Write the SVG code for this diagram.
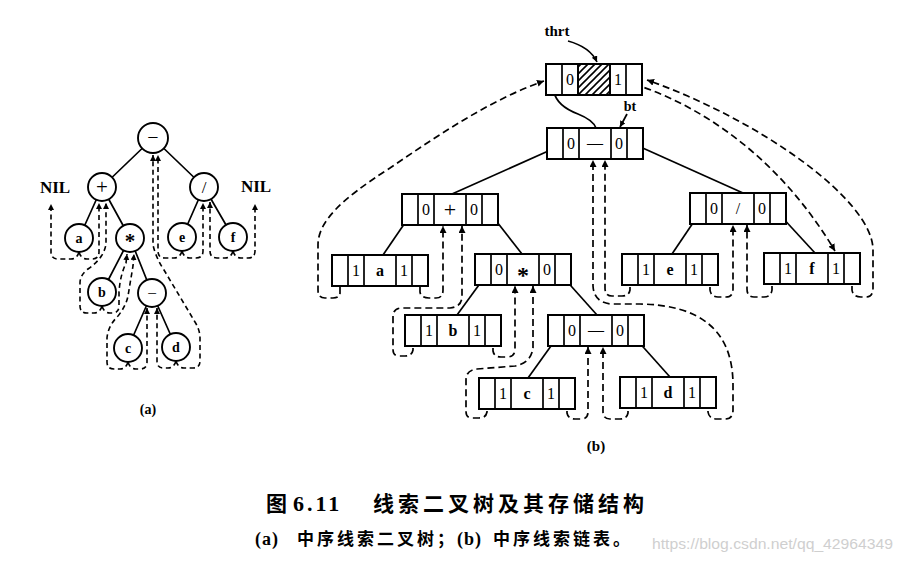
<svg xmlns="http://www.w3.org/2000/svg" width="904" height="567" viewBox="0 0 904 567">
<style>
.bg{fill:#fff}
.circ{fill:#fff;stroke:#000;stroke-width:1.9}
.edge{fill:none;stroke:#000;stroke-width:1.7}
.thr{fill:none;stroke:#000;stroke-width:1.7;stroke-dasharray:7 4}
.thra{fill:none;stroke:#000;stroke-width:1.6;stroke-dasharray:5 3.5}
.box rect{fill:#fff;stroke:#000;stroke-width:2}
.box path{fill:none;stroke:#000;stroke-width:1.7}
.t{font-family:"Liberation Serif",serif;fill:#000;text-anchor:middle}
.cell{font-size:16px}
.lab{font-size:14px;font-weight:bold}
.cap{font-family:"Noto Sans CJK SC",sans-serif;font-weight:bold;fill:#000}
</style>
<defs>
<marker id="ah" markerUnits="userSpaceOnUse" markerWidth="8" markerHeight="8" refX="7" refY="3.5" orient="auto">
<path d="M0,0 L7,3.5 L0,7 z" fill="#000"/>
</marker>
<marker id="as" markerUnits="userSpaceOnUse" markerWidth="7" markerHeight="7" refX="6" refY="3" orient="auto">
<path d="M0,0 L6,3 L0,6 z" fill="#000"/>
</marker>
<pattern id="hatch" patternUnits="userSpaceOnUse" width="7" height="7">
<path d="M0,7 L7,0 M-2,2 L2,-2 M5,9 L9,5" stroke="#000" stroke-width="1.6"/>
</pattern>
<g id="cells" class="box"><rect x="0" y="0" width="96" height="31"/><path d="M16,0V31M32,0V31M64,0V31M80,0V31"/></g>
</defs>
<rect class="bg" x="0" y="0" width="904" height="567"/>

<!-- ===== Part (a) ===== -->
<g id="a-edges">
<path class="edge" d="M153,138 L102,187 M153,138 L204,187 M102,187 L79,238 M102,187 L130,238 M204,187 L182,237 M204,187 L233,237 M130,238 L102,292 M130,238 L152,293 M152,293 L128,348 M152,293 L176,347"/>
</g>
<g id="a-threads">
<path class="thra" marker-end="url(#as)" d="M79,252 Q77,259 71,259 L58,259 Q51,259 51,252 L51,204"/>
<path class="thra" marker-end="url(#as)" d="M79,252 Q81,259 87,259 L92,259 Q99,259 99,252 L99,203"/>
<path class="thra" marker-end="url(#as)" d="M102,306 Q100,313 94,313 L87,313 Q80,313 80,306 L80,283 Q80,275 88,269 Q104,258 106,244 L106,203"/>
<path class="thra" marker-end="url(#as)" d="M102,306 Q104,313 110,313 L112,313 Q119,313 119,306 L119,292 Q120,276 126,263 L127,254"/>
<path class="thra" marker-end="url(#as)" d="M128,362 Q126,369 120,369 L114,369 Q107,369 107,362 L107,338 Q108,326 118,316 Q126,306 128,296 L133,266 L134,254"/>
<path class="thra" marker-end="url(#as)" d="M128,362 Q130,369 136,369 L140,369 Q147,369 147,362 L147,308"/>
<path class="thra" marker-end="url(#as)" d="M176,361 Q174,368 168,368 L163,368 Q157,368 157,361 L157,308"/>
<path class="thra" marker-end="url(#as)" d="M176,361 Q178,368 184,368 L193,368 Q200,368 200,361 L200,338 Q200,330 195,322 L164,270 Q156,258 153,245 L153,155"/>
<path class="thra" marker-end="url(#as)" d="M182,251 Q180,258 174,258 L165,258 Q158,258 158,251 L158,155"/>
<path class="thra" marker-end="url(#as)" d="M182,251 Q184,258 190,258 L196,258 Q203,258 203,251 L203,203"/>
<path class="thra" marker-end="url(#as)" d="M233,251 Q231,258 225,258 L217,258 Q210,258 210,251 L210,202"/>
<path class="thra" marker-end="url(#as)" d="M233,251 Q235,258 241,258 L248,258 Q255,258 255,251 L255,204"/>
</g>
<g id="a-root"><circle class="circ" cx="153" cy="138" r="15"/><text class="t" x="153" y="144" font-size="20">−</text></g>
<g id="a-plus"><circle class="circ" cx="102" cy="187" r="14"/><text class="t" x="102" y="194" font-size="21">+</text></g>
<g id="a-div"><circle class="circ" cx="204" cy="187" r="14"/><text class="t" x="204" y="192.5" font-size="17">/</text></g>
<g id="a-a"><circle class="circ" cx="79" cy="238" r="14"/><text class="t lab" x="79" y="243">a</text></g>
<g id="a-mul"><circle class="circ" cx="130" cy="238" r="14"/><text class="t" x="130" y="247.5" font-size="21" font-weight="bold">*</text></g>
<g id="a-e"><circle class="circ" cx="182" cy="237" r="14"/><text class="t lab" x="182" y="242">e</text></g>
<g id="a-f"><circle class="circ" cx="233" cy="237" r="14"/><text class="t lab" x="233" y="242">f</text></g>
<g id="a-b"><circle class="circ" cx="102" cy="292" r="14"/><text class="t lab" x="102" y="297">b</text></g>
<g id="a-minus2"><circle class="circ" cx="152" cy="293" r="14"/><text class="t" x="152" y="298.5" font-size="17">−</text></g>
<g id="a-c"><circle class="circ" cx="128" cy="348" r="14"/><text class="t lab" x="128" y="353">c</text></g>
<g id="a-d"><circle class="circ" cx="176" cy="347" r="14"/><text class="t lab" x="176" y="352">d</text></g>
<g id="a-nil-left"><text class="t" x="55" y="193" font-size="17" font-weight="bold">NIL</text></g>
<g id="a-nil-right"><text class="t" x="256" y="192" font-size="17" font-weight="bold">NIL</text></g>
<text class="t" x="148" y="414" font-size="14" font-weight="bold">(a)</text>

<!-- ===== Part (b) ===== -->
<g id="b-links">
<path class="edge" d="M554,80 L554,92 Q557,106 578,114 Q593,120 596,128"/>
<path class="edge" d="M555,148 L452,194"/>
<path class="edge" d="M636,145 L743,193"/>
<path class="edge" d="M411,214 L383,255"/>
<path class="edge" d="M490,213 L522,254"/>
<path class="edge" d="M484,278 L457,315"/>
<path class="edge" d="M563,277 L597,315"/>
<path class="edge" d="M556,339 L528,378"/>
<path class="edge" d="M636,339 L670,377"/>
<path class="edge" d="M699,214 L672,254"/>
<path class="edge" d="M780,215 L815,253"/>
<path class="edge" marker-end="url(#as)" d="M568,41 Q590,47 597,62"/>
<path class="edge" marker-end="url(#as)" d="M627,114 L620,127"/>
</g>
<g id="b-threads">
<path class="thr" marker-end="url(#ah)" d="M340,276 L340,293 Q340,298 333,298 L325,298 Q318,298 318,290 L318,245 C318,222 340,200 390,168 C440,134 490,100 544,81"/>
<path class="thr" marker-end="url(#ah)" d="M634,84 C720,112 790,175 835,251"/>
<path class="thr" marker-end="url(#ah)" d="M852,275 L852,290 Q853,297 861,297 L866,297 Q873,297 873,288 L873,250 C873,200 760,120 647,80"/>
<path class="thr" marker-end="url(#ah)" d="M420,276 L420,292 Q421,298 429,298 L436,298 Q443,298 443,290 L443,226"/>
<path class="thr" marker-end="url(#ah)" d="M413,337 L413,350 Q412,356 405,356 L399,356 Q393,356 393,349 L393,317 Q393,308 402,308 L450,308 Q462,307 462,296 L462,226"/>
<path class="thr" marker-end="url(#ah)" d="M493,337 L493,351 Q494,357 501,357 L507,357 Q515,357 515,349 L515,286"/>
<path class="thr" marker-end="url(#ah)" d="M487,400 L487,412 Q486,418 479,418 L472,418 Q466,418 466,411 L466,380 Q466,370 477,369 L515,366 Q531,363 533,348 L533,286"/>
<path class="thr" marker-end="url(#ah)" d="M567,400 L567,413 Q568,419 575,419 L581,419 Q588,419 588,412 L588,347"/>
<path class="thr" marker-end="url(#ah)" d="M628,400 L628,413 Q627,419 620,419 L610,419 Q603,419 603,412 L603,347"/>
<path class="thr" marker-end="url(#ah)" d="M708,400 L708,412 Q709,419 717,419 L725,419 Q733,419 733,410 L733,385 C733,330 700,305 640,304 L612,304 Q594,303 593,286 L593,160"/>
<path class="thr" marker-end="url(#ah)" d="M630,276 L630,290 Q629,296 622,296 L612,296 Q605,296 605,288 L605,160"/>
<path class="thr" marker-end="url(#ah)" d="M710,276 L710,290 Q711,297 718,297 L726,297 Q733,297 733,289 L733,225"/>
<path class="thr" marker-end="url(#ah)" d="M772,275 L772,290 Q771,297 764,297 L754,297 Q747,297 747,289 L747,225"/>
</g>

<g id="b-head" transform="translate(546,64)">
<use href="#cells"/><rect x="32" y="1" width="32" height="29" fill="url(#hatch)"/><path d="M32,0V31M64,0V31" stroke="#000" stroke-width="1.7"/>
<text class="t cell" x="24" y="21">0</text><text class="t cell" x="72" y="21">1</text>
</g>
<g id="b-root" transform="translate(547,128)">
<use href="#cells"/><text class="t cell" x="24" y="21">0</text><text class="t cell" x="48" y="20">—</text><text class="t cell" x="72" y="21">0</text>
</g>
<g id="b-plus" transform="translate(402,194)">
<use href="#cells"/><text class="t cell" x="24" y="21">0</text><text class="t" x="48" y="23" font-size="22">+</text><text class="t cell" x="72" y="21">0</text>
</g>
<g id="b-div" transform="translate(690,193)">
<use href="#cells"/><text class="t cell" x="24" y="21">0</text><text class="t cell" x="48" y="21">/</text><text class="t cell" x="72" y="21">0</text>
</g>
<g id="b-a" transform="translate(332,255)">
<use href="#cells"/><text class="t cell" x="24" y="21">1</text><text class="t cell" x="48" y="21" font-weight="bold">a</text><text class="t cell" x="72" y="21">1</text>
</g>
<g id="b-mul" transform="translate(475,254)">
<use href="#cells"/><text class="t cell" x="24" y="21">0</text><text class="t" x="48" y="29" font-size="24" font-weight="bold">*</text><text class="t cell" x="72" y="21">0</text>
</g>
<g id="b-e" transform="translate(622,254)">
<use href="#cells"/><text class="t cell" x="24" y="21">1</text><text class="t cell" x="48" y="21" font-weight="bold">e</text><text class="t cell" x="72" y="21">1</text>
</g>
<g id="b-f" transform="translate(764,253)">
<use href="#cells"/><text class="t cell" x="24" y="21">1</text><text class="t cell" x="48" y="21" font-weight="bold">f</text><text class="t cell" x="72" y="21">1</text>
</g>
<g id="b-b" transform="translate(405,315)">
<use href="#cells"/><text class="t cell" x="24" y="21">1</text><text class="t cell" x="48" y="21" font-weight="bold">b</text><text class="t cell" x="72" y="21">1</text>
</g>
<g id="b-minus2" transform="translate(548,315)">
<use href="#cells"/><text class="t cell" x="24" y="21">0</text><text class="t cell" x="48" y="20">—</text><text class="t cell" x="72" y="21">0</text>
</g>
<g id="b-c" transform="translate(479,378)">
<use href="#cells"/><text class="t cell" x="24" y="21">1</text><text class="t cell" x="48" y="21" font-weight="bold">c</text><text class="t cell" x="72" y="21">1</text>
</g>
<g id="b-d" transform="translate(620,377)">
<use href="#cells"/><text class="t cell" x="24" y="21">1</text><text class="t cell" x="48" y="21" font-weight="bold">d</text><text class="t cell" x="72" y="21">1</text>
</g>
<text class="t" x="557" y="36" font-size="15" font-weight="bold">thrt</text>
<text class="t" x="630" y="111" font-size="14" font-weight="bold">bt</text>
<text class="t" x="596" y="451" font-size="15" font-weight="bold">(b)</text>

<!-- ===== Caption ===== -->
<text class="cap" x="266" y="511" font-size="21">图</text>
<text x="293" y="511" font-family="Liberation Serif, serif" font-weight="bold" font-size="22" letter-spacing="3">6.11</text>
<text class="cap" x="373" y="511" font-size="21" letter-spacing="4">线索二叉树及其存储结构</text>
<text x="255" y="545" font-family="Liberation Serif, serif" font-weight="bold" font-size="18" letter-spacing="1">(a)</text>
<text class="cap" x="297" y="545" font-size="17" letter-spacing="3">中序线索二叉树；</text>
<text x="457" y="545" font-family="Liberation Serif, serif" font-weight="bold" font-size="18" letter-spacing="1">(b)</text>
<text class="cap" x="493" y="545" font-size="17" letter-spacing="3">中序线索链表。</text>
<text x="652" y="549" font-family="Liberation Sans, sans-serif" font-size="14" fill="#cfcfcf" textLength="241" lengthAdjust="spacingAndGlyphs">https://blog.csdn.net/qq_42964349</text>
</svg>
